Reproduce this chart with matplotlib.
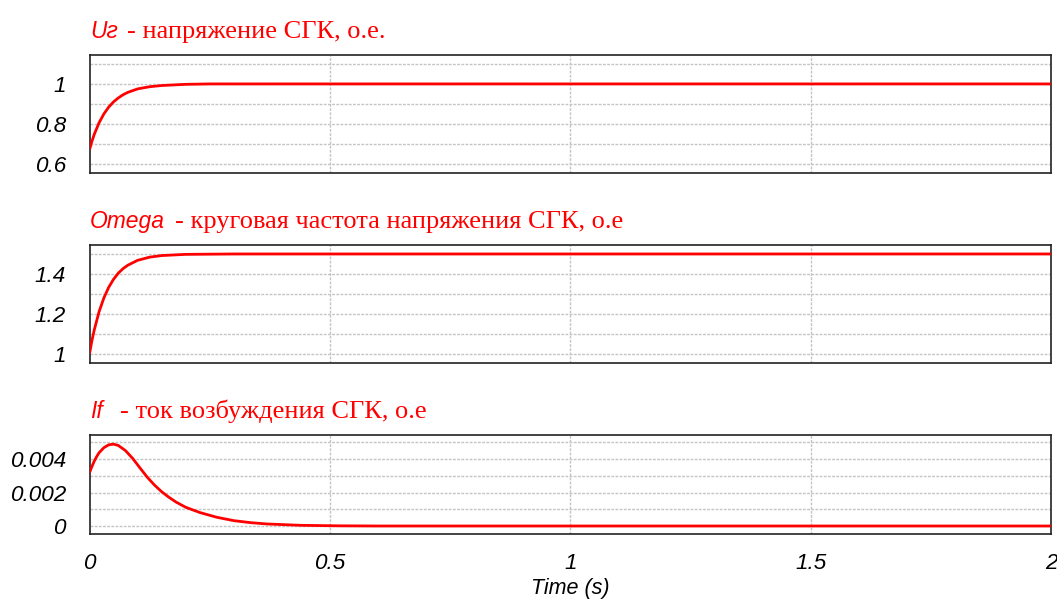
import matplotlib
matplotlib.use("Agg")
import matplotlib.pyplot as plt
from matplotlib.ticker import FixedLocator

# ---- data ----
t_ug = [0, 0.005, 0.01, 0.02, 0.03, 0.04, 0.05, 0.06, 0.07, 0.08, 0.1, 0.125, 0.15, 0.2, 0.25, 0.3, 2.0]
ug = [0.67, 0.712, 0.748, 0.806, 0.850, 0.884, 0.910, 0.930, 0.946, 0.958, 0.975, 0.986, 0.992, 0.998, 1.0, 1.0, 1.0]

t_om = [0, 0.005, 0.01, 0.02, 0.03, 0.04, 0.05, 0.06, 0.07, 0.08, 0.1, 0.125, 0.15, 0.2, 0.3, 2.0]
omega = [1.0, 1.065, 1.12, 1.211, 1.28, 1.333, 1.373, 1.404, 1.427, 1.444, 1.468, 1.484, 1.492, 1.498, 1.5, 1.5]

t_if = [0, 0.005, 0.01, 0.015, 0.02, 0.03, 0.04, 0.05, 0.06, 0.075, 0.09, 0.105, 0.12, 0.135, 0.15, 0.165,
        0.18, 0.2, 0.23, 0.265, 0.3, 0.335, 0.37, 0.44, 0.52, 0.6, 2.0]
i_f = [0.00318, 0.00355, 0.00388, 0.00415, 0.00438, 0.00468, 0.00485, 0.00489, 0.00481, 0.0045, 0.00403,
       0.00347, 0.00292, 0.00245, 0.00205, 0.00172, 0.00143, 0.00112, 0.0008, 0.00052, 0.00032, 0.0002,
       0.00012, 0.00004, 0.00001, 0.0, 0.0]

xticks = [0, 0.5, 1, 1.5, 2]
xtick_labels = ["0", "0.5", "1", "1.5", "2"]

panels = [
    dict(t=t_ug, y=ug, ylim=(0.555, 1.1465), major=[0.6, 0.8, 1.0], labels=["0.6", "0.8", "1"],
         grid=[0.6, 0.7, 0.8, 0.9, 1.0, 1.1], name="Uг", desc="- напряжение СГК, о.е.",
         rect=(54.7, 172.7), name_x=90, desc_x=127),
    dict(t=t_om, y=omega, ylim=(0.9545, 1.5465), major=[1.0, 1.2, 1.4], labels=["1", "1.2", "1.4"],
         grid=[1.0, 1.1, 1.2, 1.3, 1.4, 1.5], name="Omega", desc="- круговая частота напряжения СГК, о.е",
         rect=(244.7, 362.7), name_x=90, desc_x=175),
    dict(t=t_if, y=i_f, ylim=(-0.000478, 0.005454), major=[0.0, 0.002, 0.004], labels=["0", "0.002", "0.004"],
         grid=[0.0, 0.001, 0.002, 0.003, 0.004, 0.005], name="If", desc="- ток возбуждения СГК, о.е",
         rect=(434.7, 534.0), name_x=90, desc_x=120),
]

W, H = 1057, 603
fig = plt.figure(figsize=(W / 100, H / 100), dpi=100)
fig.patch.set_facecolor("white")

left_px, right_px = 89.5, 1051
sans_it = dict(family="Liberation Sans", style="italic")
red = "#ff0000"
grid_col = "#c4c4c4"

for i, p in enumerate(panels):
    top, bot = p["rect"]
    ax = fig.add_axes([left_px / W, 1 - bot / H, (right_px - left_px) / W, (bot - top) / H])
    ax.plot(p["t"], p["y"], color=red, lw=2.0, solid_capstyle="butt", zorder=3)
    ax.set_xlim(0, 2)
    ax.set_ylim(*p["ylim"])
    for g in p["grid"]:
        ax.axhline(g, color=grid_col, lw=1.0, ls=(0, (2, 1)), zorder=1)
    for g in [0.5, 1.0, 1.5]:
        ax.axvline(g, color=grid_col, lw=1.0, ls=(0, (2, 1)), zorder=1)
    ax.yaxis.set_major_locator(FixedLocator(p["major"]))
    ax.set_yticklabels(p["labels"], **sans_it, fontsize=16.2)
    ax.tick_params(axis="y", length=0, pad=17)
    ax.set_xticks(xticks)
    if i == 2:
        ax.set_xticklabels(xtick_labels, **sans_it, fontsize=16.2)
        ax.tick_params(axis="x", length=0, pad=13.5)
        ax.set_xlabel("Time (s)", **sans_it, fontsize=15.5, labelpad=3)
    else:
        ax.set_xticklabels([])
        ax.tick_params(axis="x", length=0)
    for s in ax.spines.values():
        s.set_color("#222222")
        s.set_linewidth(1.2)
    base_y = 1 - (top - 17) / H
    fig.text(p["name_x"] / W, base_y, p["name"], color=red, fontsize=16.5, va="baseline", **sans_it)
    fig.text(p["desc_x"] / W, base_y, p["desc"], color=red, fontsize=19, va="baseline",
             family="Liberation Serif")

fig.savefig("out.png", dpi=100, facecolor="white")
